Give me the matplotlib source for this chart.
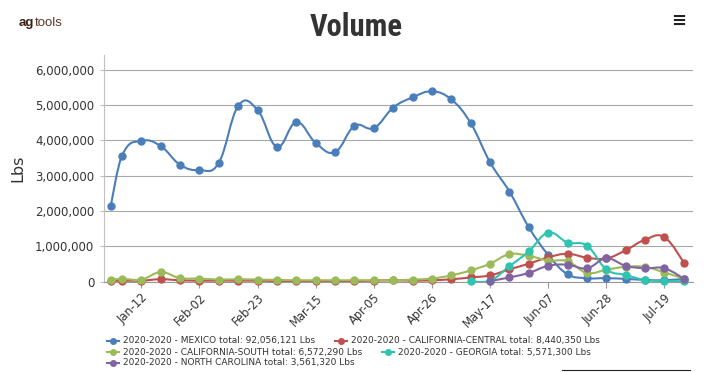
import datetime
import numpy as np
import matplotlib
matplotlib.use("Agg")
import matplotlib.pyplot as plt
import matplotlib.dates as mdates
from matplotlib.path import Path
from matplotlib.patches import PathPatch
from matplotlib.lines import Line2D
from matplotlib.ticker import FixedLocator, FuncFormatter
from matplotlib import font_manager

# weekly shipment dates (2020 season)
weeks = ["2020-01-01", "2020-01-05", "2020-01-12", "2020-01-19", "2020-01-26",
         "2020-02-02", "2020-02-09", "2020-02-16", "2020-02-23", "2020-03-01",
         "2020-03-08", "2020-03-15", "2020-03-22", "2020-03-29", "2020-04-05",
         "2020-04-12", "2020-04-19", "2020-04-26", "2020-05-03", "2020-05-10",
         "2020-05-17", "2020-05-24", "2020-05-31", "2020-06-07", "2020-06-14",
         "2020-06-21", "2020-06-28", "2020-07-05", "2020-07-12", "2020-07-19",
         "2020-07-26"]

tick_dates = ["2020-01-12", "2020-02-02", "2020-02-23", "2020-03-15", "2020-04-05",
              "2020-04-26", "2020-05-17", "2020-06-07", "2020-06-28", "2020-07-19"]
tick_labels = ["Jan-12", "Feb-02", "Feb-23", "Mar-15", "Apr-05",
               "Apr-26", "May-17", "Jun-07", "Jun-28", "Jul-19"]

y_ticks = [0, 1000000, 2000000, 3000000, 4000000, 5000000, 6000000]

series_names = ["MEXICO", "CALIFORNIA-CENTRAL", "CALIFORNIA-SOUTH", "GEORGIA", "NORTH CAROLINA"]
series_totals = ["92,056,121", "8,440,350", "6,572,290", "5,571,300", "3,561,320"]
colors = ["#4a7ebb", "#c0504d", "#9bbb59", "#2ec4b0", "#8064a2"]

mexico = [2150000, 3570000, 3990000, 3840000, 3310000, 3160000, 3370000, 4980000,
          4860000, 3820000, 4520000, 3930000, 3670000, 4410000, 4350000, 4930000,
          5220000, 5390000, 5160000, 4490000, 3380000, 2550000, 1540000, 760000,
          210000, 100000, 100000, 80000, 50000, 40000, 80000]
cal_central = [20000, 30000, 30000, 70000, 40000, 30000, 30000, 30000, 30000, 20000,
               20000, 20000, 20000, 20000, 30000, 40000, 30000, 40000, 70000, 120000,
               180000, 350000, 510000, 690000, 790000, 680000, 660000, 890000, 1190000,
               1260000, 530000]
cal_south = [60000, 80000, 60000, 270000, 100000, 90000, 60000, 70000, 60000, 50000,
             40000, 40000, 40000, 40000, 40000, 40000, 60000, 90000, 180000, 320000,
             510000, 780000, 730000, 600000, 580000, 250000, 340000, 420000, 420000,
             260000, 90000]
georgia_weeks = weeks[19:]
georgia = [20000, 30000, 440000, 860000, 1390000, 1110000, 1020000, 350000, 190000,
           50000, 20000, 10000]
carolina_weeks = weeks[20:]
carolina = [20000, 120000, 250000, 450000, 480000, 380000, 660000, 450000, 380000,
            380000, 80000]

W, H = 714, 372
fonts = font_manager.fontManager.ttflist
names = {f.name for f in fonts}
sans = 'Liberation Sans' if 'Liberation Sans' in names else 'DejaVu Sans'

# condensed heavy face for the title, best available
title_font = dict(family='DejaVu Sans', weight='bold', size=19)
if 'Roboto Condensed' in names:
    title_font = dict(family='Roboto Condensed', weight='bold', size=22)
elif any(f.name == 'DejaVu Sans' and 'condensed' in str(f.stretch) for f in fonts):
    title_font = dict(family='DejaVu Sans', weight='bold', stretch='condensed', size=20)
elif 'Liberation Sans Narrow' in names:
    title_font = dict(family='Liberation Sans Narrow', weight='bold', size=22)
elif 'Roboto' in names:
    title_font = dict(family='Roboto', weight='black', size=21)

plt.rcParams['font.family'] = ['DejaVu Sans']


def fx(x):
    return x / W


def fy(y):
    return 1 - y / H


def to_num(dates):
    return mdates.date2num([datetime.datetime.strptime(d, "%Y-%m-%d") for d in dates])


def spline_path(x, y, smoothing=1.5, denom=2.5):
    """smooth path through the points, control points as in a highcharts spline"""
    n = len(x)
    left, right = [None] * n, [None] * n
    for i in range(1, n - 1):
        lcx = (smoothing * x[i] + x[i - 1]) / denom
        lcy = (smoothing * y[i] + y[i - 1]) / denom
        rcx = (smoothing * x[i] + x[i + 1]) / denom
        rcy = (smoothing * y[i] + y[i + 1]) / denom
        corr = (rcy - lcy) * (rcx - x[i]) / (rcx - lcx) + y[i] - rcy
        left[i] = (lcx, lcy + corr)
        right[i] = (rcx, rcy + corr)
    verts, codes = [(x[0], y[0])], [Path.MOVETO]
    for i in range(1, n):
        c1 = right[i - 1] if right[i - 1] is not None else (x[i - 1], y[i - 1])
        c2 = left[i] if left[i] is not None else (x[i], y[i])
        verts += [c1, c2, (x[i], y[i])]
        codes += [Path.CURVE4] * 3
    return Path(verts, codes)


fig = plt.figure(figsize=(W / 100, H / 100), dpi=100)
ax = fig.add_axes([fx(104), fy(281.7), fx(692.7) - fx(104), fy(55) - fy(281.7)])

all_series = [(weeks, mexico), (weeks, cal_central), (weeks, cal_south),
              (georgia_weeks, georgia), (carolina_weeks, carolina)]

for (dates, values), color in zip(all_series, colors):
    xs = to_num(dates)
    ys = np.array(values, dtype=float)
    ax.add_patch(PathPatch(spline_path(xs, ys), facecolor='none', edgecolor=color,
                           lw=1.5, zorder=3))
    ax.plot(xs, ys, ls='none', marker='o', ms=5, color=color, mec=color,
            clip_on=False, zorder=4)

ax.set_xlim(mdates.date2num(datetime.datetime(2019, 12, 29, 12)),
            mdates.date2num(datetime.datetime(2020, 7, 29, 5)))
ax.set_ylim(0, 6420000)

ax.xaxis.set_major_locator(FixedLocator(to_num(tick_dates)))
ax.set_xticklabels(tick_labels, rotation=45, ha='right', rotation_mode='anchor',
                   fontsize=8.3, color='#333333')
ax.yaxis.set_major_locator(FixedLocator(y_ticks))
ax.yaxis.set_major_formatter(FuncFormatter(lambda v, p: f"{int(v):,}"))
ax.tick_params(axis='y', length=3, width=0.8, color='#c0c0c0', pad=4,
               labelsize=8.5, labelcolor='#333333')
ax.tick_params(axis='x', length=4, width=0.8, color='#999999', pad=3)

ax.grid(axis='y', color='#a8a8a8', lw=0.8)
ax.set_axisbelow(True)
for side in ['top', 'right']:
    ax.spines[side].set_visible(False)
ax.spines['left'].set_color('#c0c0c0')
ax.spines['left'].set_linewidth(0.8)
ax.spines['bottom'].set_color('#999999')
ax.spines['bottom'].set_linewidth(0.8)

ax.set_ylabel("Lbs", fontsize=11.5, color='#333333')
ax.yaxis.set_label_coords((25 - 104) / (692.7 - 104), 0.5)

# header
fig.text(fx(356), fy(27), "Volume", ha='center', va='center', color='#333333',
         fontproperties=font_manager.FontProperties(**title_font))
ag = fig.text(fx(19), fy(26), "ag", ha='left', va='baseline', fontsize=9.5,
              family=sans, weight='bold', color='#3d2213')
fig.canvas.draw()
renderer = fig.canvas.get_renderer()
ag_end = ag.get_window_extent(renderer).x1
fig.text(ag_end / W, fy(26), "tools", ha='left', va='baseline', fontsize=9.5,
         family=sans, color='#5a3a2a')
fig.text(fx(679), fy(21), "\u2261", ha='center', va='center', fontsize=13,
         weight='bold', color='#222222')

# legend, laid out row by row like the original
rows = [[0, 1], [2, 3], [4]]
row_y = [341, 352, 363]
for row, y in zip(rows, row_y):
    x = 107
    for idx in row:
        color = colors[idx]
        fig.add_artist(Line2D([fx(x), fx(x + 12)], [fy(y), fy(y)], color=color, lw=1.5,
                              transform=fig.transFigure))
        fig.add_artist(Line2D([fx(x + 6)], [fy(y)], marker='o', ms=4, color=color,
                              transform=fig.transFigure))
        label = f"2020-2020 - {series_names[idx]} total: {series_totals[idx]} Lbs"
        t = fig.text(fx(x + 16), fy(y), label, ha='left', va='center', fontsize=6.5,
                     color='#333333')
        x = t.get_window_extent(renderer).x1 + 20

fig.add_artist(Line2D([fx(562), fx(690)], [fy(370), fy(370)], color='#222222', lw=0.8,
                      transform=fig.transFigure))

fig.savefig("out.png", dpi=100)
